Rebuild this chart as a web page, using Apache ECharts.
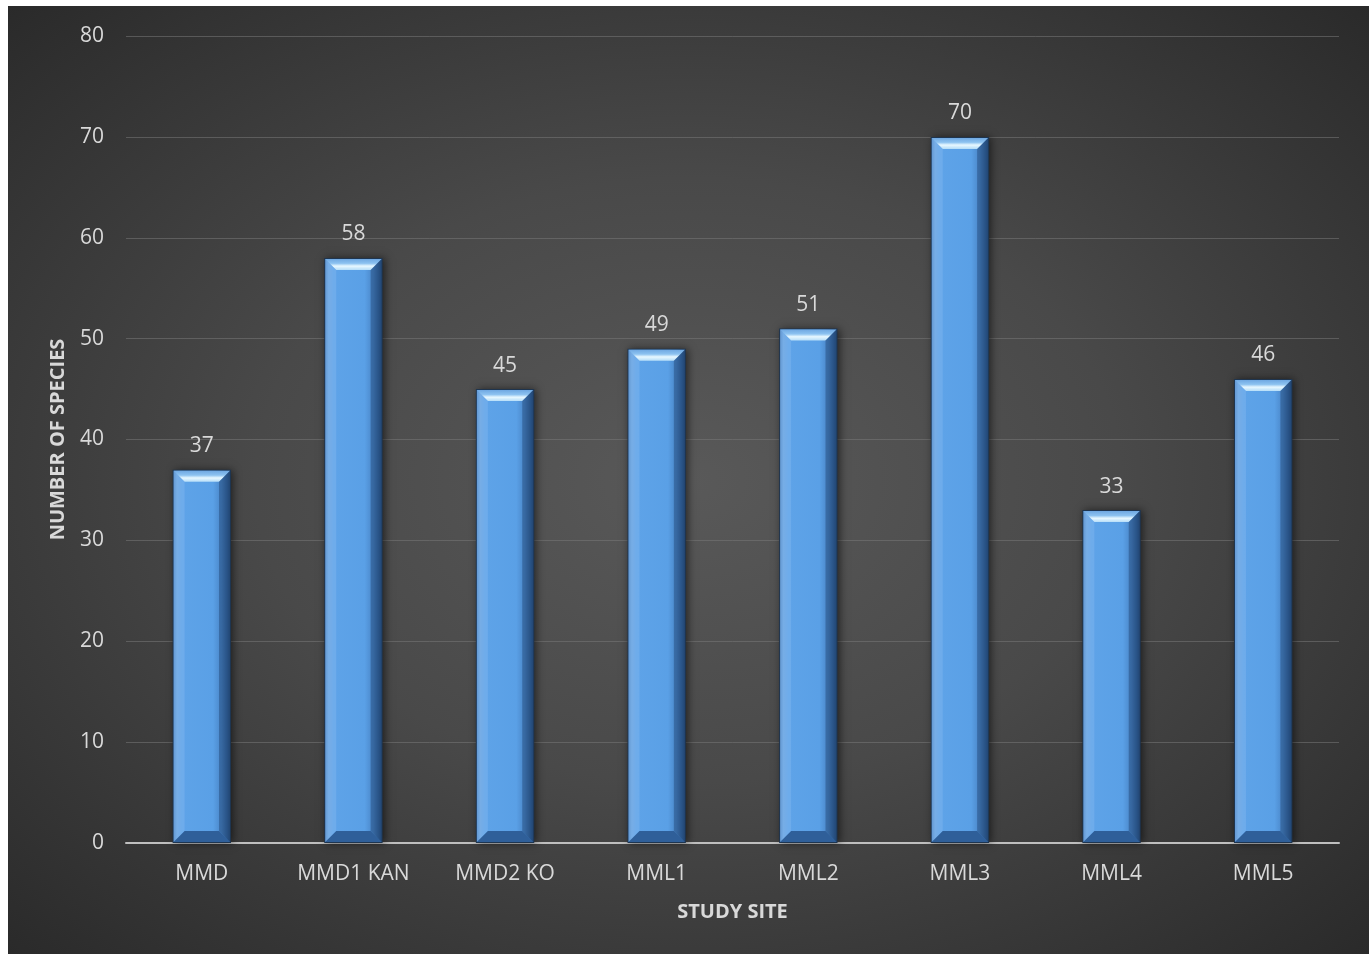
<!DOCTYPE html>
<html><head><meta charset="utf-8">
<script src="https://cdn.jsdelivr.net/npm/echarts@6/dist/echarts.min.js"></script>
<style>
html,body{margin:0;padding:0;background:#fff;width:1372px;height:954px;overflow:hidden}
#wrap{position:absolute;left:8px;top:6px;width:1361px;height:948px;
background:radial-gradient(ellipse farthest-corner at 50% 50%, #595959 0%, #494949 45%, #2a2a2a 100%);}
#c{width:1361px;height:948px}
</style></head><body>
<div id="wrap"><div id="c"></div></div>
<script>
var categories = ['MMD','MMD1 KAN','MMD2 KO','MML1','MML2','MML3','MML4','MML5'];
var speciesCounts = [37,58,45,49,51,70,33,46];
var yTicks = {min:0, max:80, interval:10};

var chart = echarts.init(document.getElementById('c'), null, {renderer:'canvas'});
var FONT = '"Open Sans","Noto Sans",sans-serif';
var TXT = '#d9d9d9';

function renderBar(params, api){
  var v = api.value(1);
  var top = api.coord([api.value(0), v]);
  var base = api.coord([api.value(0), 0]);
  var bw = api.size([1,0])[0]*0.385;
  var x = top[0]-bw/2, y = top[1], h = base[1]-top[1];
  var bev = 12;
  var children = [
    {type:'rect', shape:{x:x, y:y, width:bw, height:h},
     style:{fill:'#1e3550', shadowBlur:8, shadowColor:'rgba(0,0,0,0.55)', shadowOffsetX:2, shadowOffsetY:0}},
    {type:'rect', shape:{x:x+1, y:y+1, width:bw-2, height:h-2},
     style:{fill:new echarts.graphic.LinearGradient(0,0,1,0,[
       {offset:0,color:'#4f86c4'},{offset:0.06,color:'#6ba5e0'},{offset:0.15,color:'#5ea3e8'},
       {offset:0.7,color:'#5aa0e6'},{offset:0.85,color:'#4a86c8'},{offset:0.95,color:'#34659e'},{offset:1,color:'#2a5282'}])}},
    {type:'polygon', shape:{points:[[x+1,y+1],[x+bw-1,y+1],[x+bw-bev,y+bev],[x+bev,y+bev]]},
     style:{fill:new echarts.graphic.LinearGradient(0,0,0,1,[
       {offset:0,color:'#6fa8e2'},{offset:0.4,color:'#8cc2f0'},{offset:0.65,color:'#e8f8ff'},{offset:1,color:'#b5ddf8'}])}},
    {type:'polygon', shape:{points:[[x+1,y+1],[x+bev,y+bev],[x+bev,y+h-bev],[x+1,y+h-1]]},
     style:{fill:'rgba(140,190,240,0.35)'}},
    {type:'polygon', shape:{points:[[x+bw-1,y+1],[x+bw-bev,y+bev],[x+bw-bev,y+h-bev],[x+bw-1,y+h-1]]},
     style:{fill:'rgba(20,50,90,0.35)'}},
    {type:'polygon', shape:{points:[[x+1,y+h-1],[x+bw-1,y+h-1],[x+bw-bev,y+h-bev],[x+bev,y+h-bev]]},
     style:{fill:'#2f5f99'}},
    {type:'text', x:top[0], y:y-13,
     style:{text:String(v), fill:TXT, font:'21px '+FONT, align:'center', verticalAlign:'bottom'}}
  ];
  return {type:'group', children:children};
}

chart.setOption({
  backgroundColor:'transparent',
  animation:false,
  grid:{left:118, right:30, top:30, bottom:111, containLabel:false},
  xAxis:{
    type:'category', data:categories,
    name:'STUDY SITE', nameLocation:'middle', nameGap:59,
    nameTextStyle:{color:TXT, fontSize:20, fontWeight:'bold', fontFamily:FONT},
    axisLine:{lineStyle:{color:'#bfbfbf', width:2}},
    axisTick:{show:false},
    axisLabel:{color:TXT, fontSize:21, fontFamily:FONT, margin:21, interval:0}
  },
  yAxis:{
    type:'value', min:yTicks.min, max:yTicks.max, interval:yTicks.interval,
    name:'NUMBER OF SPECIES', nameLocation:'middle', nameGap:58, nameRotate:90,
    nameTextStyle:{color:TXT, fontSize:20, fontWeight:'bold', fontFamily:FONT},
    axisLine:{show:false}, axisTick:{show:false},
    axisLabel:{color:TXT, fontSize:21, fontFamily:FONT, margin:22},
    splitLine:{lineStyle:{color:'rgba(120,120,120,0.55)', width:1}}
  },
  series:[{
    type:'custom', renderItem:renderBar,
    data:categories.map(function(c,i){return [i, speciesCounts[i]];}),
    encode:{x:0, y:1}, z:3
  }]
});
</script>
</body></html>
